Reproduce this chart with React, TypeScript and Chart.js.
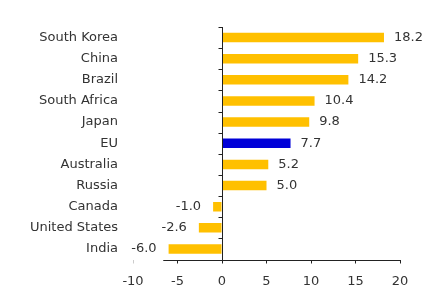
import React, { useEffect, useRef } from "react";
import { Chart, registerables } from "chart.js";

Chart.register(...registerables);

const categories = [
  "South Korea",
  "China",
  "Brazil",
  "South Africa",
  "Japan",
  "EU",
  "Australia",
  "Russia",
  "Canada",
  "United States",
  "India",
];
const values = [18.2, 15.3, 14.2, 10.4, 9.8, 7.7, 5.2, 5.0, -1.0, -2.6, -6.0];
const highlight = "EU";
const xMin = -10;
const xMax = 20;
const xStep = 5;
const axisLineStart = -6.6;

const YELLOW = "#FFC000";
const BLUE = "#0000D8";
const TEXT = "#333333";
const FONT = "DejaVu Sans";

const axisPlugin = {
  id: "customAxes",
  afterDatasetsDraw(chart: any) {
    const { ctx, chartArea, scales } = chart;
    const x = scales.x;
    const y = scales.y;
    ctx.save();
    ctx.strokeStyle = "#222";
    ctx.lineWidth = 1;
    const bottom = Math.round(chartArea.bottom) + 0.5;
    ctx.beginPath();
    ctx.moveTo(x.getPixelForValue(axisLineStart), bottom);
    ctx.lineTo(x.getPixelForValue(xMax) + 0.5, bottom);
    ctx.stroke();
    const x0 = Math.round(x.getPixelForValue(0)) + 0.5;
    ctx.beginPath();
    ctx.moveTo(x0, chartArea.top);
    ctx.lineTo(x0, bottom);
    ctx.stroke();
    const n = categories.length;
    const h = (chartArea.bottom - chartArea.top) / n;
    ctx.beginPath();
    for (let i = 0; i < n; i++) {
      const yy = Math.round(y.getPixelForValue(i) - h / 2) + 0.5;
      ctx.moveTo(x0 - 4, yy);
      ctx.lineTo(x0, yy);
    }
    ctx.stroke();
    ctx.fillStyle = TEXT;
    ctx.font = `13px "${FONT}"`;
    ctx.textBaseline = "middle";
    const meta = chart.getDatasetMeta(0);
    meta.data.forEach((bar: any, i: number) => {
      const v = values[i];
      const label = v.toFixed(1);
      if (v >= 0) {
        ctx.textAlign = "left";
        ctx.fillText(label, bar.x + 10, bar.y);
      } else {
        ctx.textAlign = "right";
        ctx.fillText(label, bar.x - 12, bar.y);
      }
    });
    ctx.restore();
  },
};

export default function App() {
  const canvasRef = useRef<HTMLCanvasElement | null>(null);

  useEffect(() => {
    if (!canvasRef.current) return;
    const chart = new Chart(canvasRef.current, {
      type: "bar",
      data: {
        labels: categories,
        datasets: [
          {
            data: values,
            backgroundColor: categories.map((c) => (c === highlight ? BLUE : YELLOW)),
            barPercentage: 0.45,
            categoryPercentage: 1,
          },
        ],
      },
      options: {
        indexAxis: "y",
        animation: false,
        responsive: true,
        maintainAspectRatio: false,
        layout: { padding: { top: 27, right: 23, left: 0, bottom: 0 } },
        plugins: {
          legend: { display: false },
          tooltip: { enabled: false },
        },
        scales: {
          x: {
            type: "linear",
            min: xMin,
            max: xMax,
            ticks: {
              stepSize: xStep,
              padding: 10,
              color: TEXT,
              font: { family: FONT, size: 13 },
            },
            grid: {
              display: true,
              drawOnChartArea: false,
              drawTicks: true,
              tickLength: 4,
              color: (ctx: any) => (ctx.tick && ctx.tick.value === xMin ? "#cccccc" : "#222222"),
            },
            border: { display: false },
            afterFit: (scale: any) => {
              scale.height = 38.5;
            },
          },
          y: {
            type: "category",
            ticks: {
              padding: 15,
              color: TEXT,
              font: { family: FONT, size: 13 },
            },
            grid: { display: false, drawTicks: false },
            border: { display: false },
            afterFit: (scale: any) => {
              scale.width = 133;
            },
          },
        },
      },
      plugins: [axisPlugin],
    });
    return () => chart.destroy();
  }, []);

  return (
    <div style={{ position: "fixed", left: 0, top: 0, width: 423, height: 298, background: "#fff" }}>
      <canvas ref={canvasRef} />
    </div>
  );
}
